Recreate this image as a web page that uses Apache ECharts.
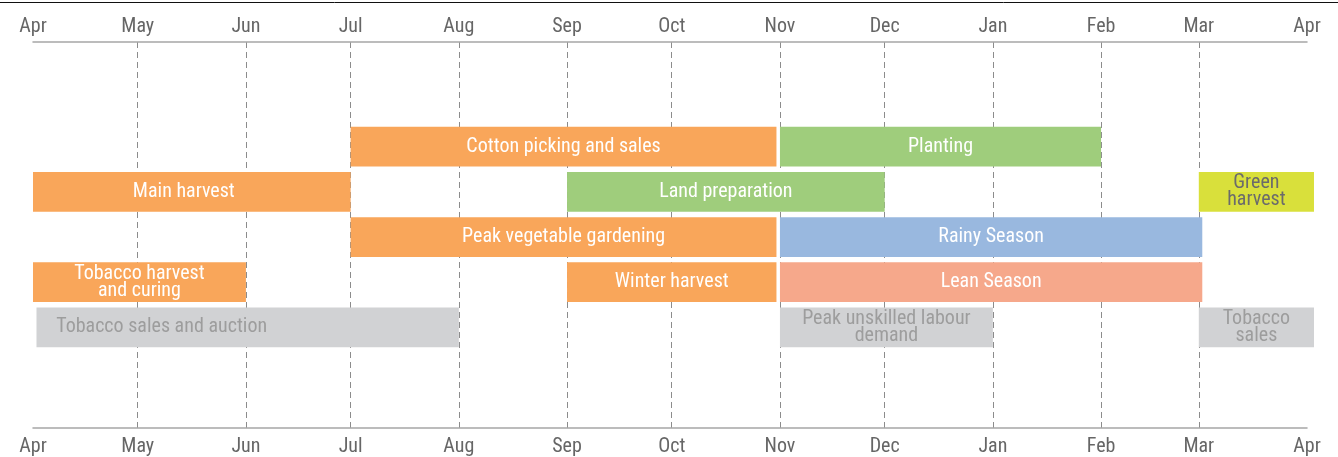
<!DOCTYPE html>
<html>
<head>
<meta charset="utf-8">
<title>Seasonal calendar</title>
<script src="https://cdn.jsdelivr.net/npm/echarts@6/dist/echarts.min.js"></script>
<style>
  html, body { margin: 0; padding: 0; background: #fff; }
  #chart { width: 1338px; height: 457px; }
</style>
</head>
<body>
<div id="chart"></div>
<script>
  // month names for the tick labels (index = Date.getMonth())
  var monthLabels = ['Jan', 'Feb', 'Mar', 'Apr', 'May', 'Jun', 'Jul', 'Aug', 'Sep', 'Oct', 'Nov', 'Dec']
  // one second inside each end, so the end ticks are the axis extent only
  var axisStart = '2018-04-01 00:00:01'
  var axisEnd = '2019-03-31 23:59:59'

  // activities, one bar each
  var activities = [
    'Cotton picking and sales', 'Planting',
    'Main harvest', 'Land preparation', 'Green\nharvest',
    'Peak vegetable gardening', 'Rainy Season',
    'Tobacco harvest\nand curing', 'Winter harvest', 'Lean Season',
    'Tobacco sales and auction', 'Peak unskilled labour\ndemand', 'Tobacco\nsales'
  ]
  var rows = [0, 0, 1, 1, 1, 2, 2, 3, 3, 3, 4, 4, 4]
  var starts = [
    '2018-07-01', '2018-11-01',
    '2018-04-01', '2018-09-01', '2019-03-01',
    '2018-07-01', '2018-11-01',
    '2018-04-01', '2018-09-01', '2018-11-01',
    '2018-04-02', '2018-11-01', '2019-03-01'
  ]
  var ends = [
    '2018-10-31', '2019-02-01',
    '2018-07-01', '2018-12-01', '2019-04-03',
    '2018-10-31', '2019-03-02',
    '2018-06-01', '2018-10-31', '2019-03-02',
    '2018-08-01', '2019-01-01', '2019-04-03'
  ]

  // styles
  var fontFamily = "'Roboto Condensed', 'Liberation Sans Narrow', 'Roboto', sans-serif"
  var kindOf = ['orange', 'green', 'orange', 'green', 'lime', 'orange', 'blue', 'orange', 'orange', 'salmon', 'grey', 'grey', 'grey']
  var fillOf = { orange: '#f9a65a', green: '#9fcd7c', lime: '#d9e03b', blue: '#99b8df', salmon: '#f6a88b', grey: '#d1d2d4' }
  var textOf = { orange: '#ffffff', green: '#ffffff', lime: '#6b6b6b', blue: '#ffffff', salmon: '#ffffff', grey: '#9d9d9d' }
  var labelShift = { 2: -8, 10: -86 }

  var data = activities.map(function (name, i) {
    return [starts[i], ends[i], rows[i], name]
  })

  function renderItem (params, api) {
    var i = params.dataIndex
    var a = api.coord([api.value(0), api.value(2)])
    var b = api.coord([api.value(1), api.value(2)])
    var h = api.size([0, 1])[1] * 0.88
    var kind = kindOf[i]
    return {
      type: 'rect',
      shape: { x: a[0], y: a[1] - h / 2, width: b[0] - a[0], height: h },
      style: { fill: fillOf[kind] },
      textContent: {
        style: {
          text: activities[i],
          fill: textOf[kind],
          fontSize: 20,
          fontFamily: fontFamily,
          lineHeight: 17,
          align: 'center'
        }
      },
      textConfig: { position: 'inside', offset: [labelShift[i] || 0, 0] }
    }
  }

  function monthAxis (position) {
    return {
      type: 'time',
      position: position,
      min: axisStart,
      max: axisEnd,
      splitNumber: 12,
      minInterval: 28 * 86400000,
      maxInterval: 31 * 86400000,
      axisLine: { show: true, onZero: false, lineStyle: { color: '#a6a6a6', width: 1.5 } },
      axisTick: { show: false },
      axisLabel: {
        show: true,
        margin: position === 'top' ? 5 : 9,
        color: '#666666',
        fontSize: 20,
        fontFamily: fontFamily,
        showMinLabel: true,
        showMaxLabel: true,
        hideOverlap: false,
        formatter: function (v) { return monthLabels[new Date(v + 3600000).getMonth()] }
      },
      splitLine: {
        show: position === 'bottom',
        showMinLine: false,
        showMaxLine: false,
        lineStyle: { color: '#8c8c8c', width: 1, type: [6, 4] }
      }
    }
  }

  var chart = echarts.init(document.getElementById('chart'))
  chart.setOption({
    animation: false,
    backgroundColor: '#ffffff',
    grid: { left: 33, right: 31, top: 42, bottom: 28 },
    xAxis: [monthAxis('top'), monthAxis('bottom')],
    yAxis: { type: 'value', inverse: true, min: -2.32, max: 6.23, show: false },
    graphic: [{
      type: 'line',
      shape: { x1: 0, y1: 2.5, x2: 1338, y2: 2.5 },
      style: { stroke: '#111111', lineWidth: 1 }
    }],
    series: [{
      type: 'custom',
      renderItem: renderItem,
      clip: false,
      xAxisIndex: 1,
      dimensions: [{ name: 'start', type: 'time' }, { name: 'end', type: 'time' }, 'row', { name: 'name', type: 'ordinal' }],
      encode: { x: [0, 1], y: 2 },
      data: data
    }]
  })
</script>
</body>
</html>
